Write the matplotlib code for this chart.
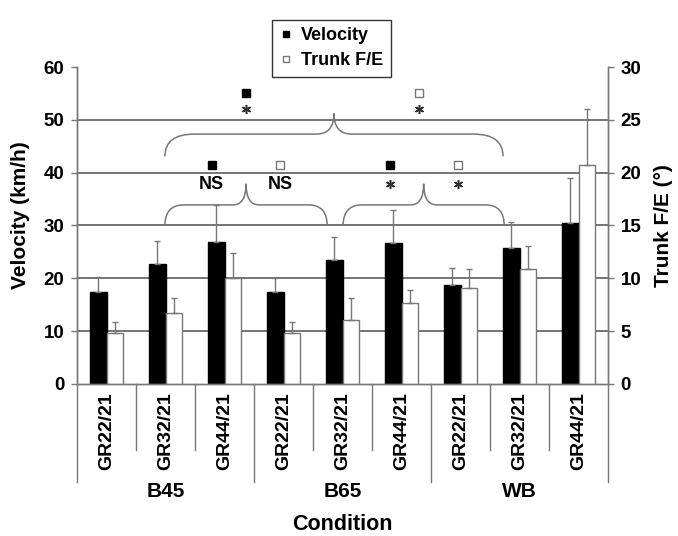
import matplotlib
matplotlib.use("Agg")
import matplotlib.pyplot as plt
from matplotlib.path import Path
from matplotlib.patches import PathPatch
from matplotlib.lines import Line2D
import matplotlib.transforms as mtransforms
import numpy as np

plt.rcParams["font.family"] = ["Liberation Sans", "DejaVu Sans"]
plt.rcParams["font.weight"] = "bold"

groups = ["B45", "B65", "WB"]
ratios = ["GR22/21", "GR32/21", "GR44/21"]

velocity_mean = [17.4, 22.8, 26.8, 17.5, 23.4, 26.6, 18.7, 25.8, 30.4]
velocity_sd = [2.9, 4.2, 7.1, 2.6, 4.5, 6.4, 3.3, 4.9, 8.6]
trunk_mean = [4.85, 6.75, 10.0, 4.85, 6.1, 7.65, 9.1, 10.9, 20.7]
trunk_sd = [1.05, 1.4, 2.35, 1.0, 2.0, 1.25, 1.75, 2.2, 5.3]

GRID = "#505050"
GRAY = "#777777"
BAR_W = 0.283

fig = plt.figure(figsize=(6.78, 5.36), dpi=100)
ax = fig.add_axes([0.1136, 0.2836, 0.7832, 0.5914])
ax2 = ax.twinx()

x = np.arange(len(velocity_mean))
err_kw = dict(ecolor=GRAY, elinewidth=1.0, capsize=2.5, capthick=1.0)

# horizontal grid (no line at top)
for yv in [10, 20, 30, 40, 50]:
    ax.axhline(yv, color=GRID, lw=1.1, zorder=0)

ax.bar(x - BAR_W / 2, velocity_mean, BAR_W, color="black", edgecolor="black",
       yerr=[np.zeros(len(x)), velocity_sd], error_kw=err_kw, zorder=2)
ax2.bar(x + BAR_W / 2, trunk_mean, BAR_W, color="white", edgecolor=GRAY, lw=1.0,
        yerr=[np.zeros(len(x)), trunk_sd], error_kw=err_kw, zorder=2)

ax.set_xlim(-0.5, 8.5)
ax.set_ylim(0, 60)
ax2.set_ylim(0, 30)
ax.set_yticks(np.arange(0, 61, 10))
ax2.set_yticks(np.arange(0, 31, 5))
ax.set_xticks([])
ax2.set_xticks([])

for a in (ax, ax2):
    a.spines["top"].set_visible(False)
    for s in ("left", "right", "bottom"):
        a.spines[s].set_color(GRAY)
        a.spines[s].set_linewidth(1.0)
    a.tick_params(axis="y", direction="out", length=4, width=1.0, color=GRAY,
                  labelsize=13.5, pad=5)

ax.set_ylabel("Velocity (km/h)", fontsize=15, fontweight="bold")
ax.yaxis.set_label_coords(-0.088, 0.533)
ax2.set_ylabel("Trunk F/E (\u00b0)", fontsize=15, fontweight="bold", labelpad=9)


def brace(a, x0, x1, yb, yh, yt, r_end, r_mid):
    xm = (x0 + x1) / 2
    verts = [(x0, yb), (x0, yh), (x0 + r_end, yh),
             (xm - r_mid, yh), (xm, yh), (xm, yt),
             (xm, yh), (xm + r_mid, yh),
             (x1 - r_end, yh), (x1, yh), (x1, yb)]
    codes = [Path.MOVETO, Path.CURVE3, Path.CURVE3,
             Path.LINETO, Path.CURVE3, Path.CURVE3,
             Path.CURVE3, Path.CURVE3,
             Path.LINETO, Path.CURVE3, Path.CURVE3]
    a.add_patch(PathPatch(Path(verts, codes), fill=False, edgecolor=GRAY,
                          lw=1.1, zorder=1))


brace(ax, 0.99, 6.72, 43.1, 47.3, 51.2, 0.5, 0.3)
brace(ax, 0.99, 3.74, 30.0, 33.9, 37.9, 0.32, 0.22)
brace(ax, 4.01, 6.74, 30.0, 33.9, 37.9, 0.32, 0.22)

# significance markers
ax.plot([2.36, 1.78, 4.81], [55.0, 41.5, 41.5], ls="none", marker="s",
        ms=6, mfc="black", mec="black", zorder=3)
ax.plot([5.30, 2.94, 5.95], [55.0, 41.5, 41.5], ls="none", marker="s",
        ms=6, mfc="white", mec=GRAY, mew=1.0, zorder=3)
ax.plot([2.36, 5.30, 4.81, 5.95], [52.0, 52.0, 37.9, 37.9], ls="none",
        marker=(6, 2, 0), ms=6.5, mec="#303030", mew=1.1, zorder=3)
for xs in (1.78, 2.94):
    ax.text(xs, 37.8, "NS", ha="center", va="center", fontsize=13,
            fontweight="bold", zorder=3)

# multi-level category axis
trans = mtransforms.blended_transform_factory(ax.transData, ax.transAxes)
for i in range(len(x)):
    ax.text(i, -0.149, ratios[i % 3], transform=trans, rotation=90,
            ha="center", va="center", fontsize=14, fontweight="bold")
for b in np.arange(-0.5, 9.0, 1.0):
    bottom = -0.309 if (b + 0.5) % 3 == 0 else -0.208
    ax.plot([b, b], [0, bottom], transform=trans, color=GRAY, lw=1.0,
            clip_on=False)
for g, name in enumerate(groups):
    ax.text(3 * g + 1, -0.340, name, transform=trans, ha="center",
            va="center", fontsize=15, fontweight="bold")
ax.text(4.0, -0.442, "Condition", transform=trans, ha="center", va="center",
        fontsize=15.5, fontweight="bold")

handles = [
    Line2D([], [], ls="none", marker="s", ms=5, mfc="black", mec="black"),
    Line2D([], [], ls="none", marker="s", ms=5, mfc="white", mec=GRAY),
]
leg = fig.legend(handles, ["Velocity", "Trunk F/E"], loc="upper center",
                 bbox_to_anchor=(331.5 / 678, 1 - 11 / 536),
                 frameon=True, fancybox=False, edgecolor="black",
                 handlelength=0.7, handletextpad=0.5, borderpad=0.4,
                 labelspacing=0.45, prop={"weight": "bold", "size": 13})
leg.get_frame().set_linewidth(1.0)

fig.savefig("out.png", dpi=100)
